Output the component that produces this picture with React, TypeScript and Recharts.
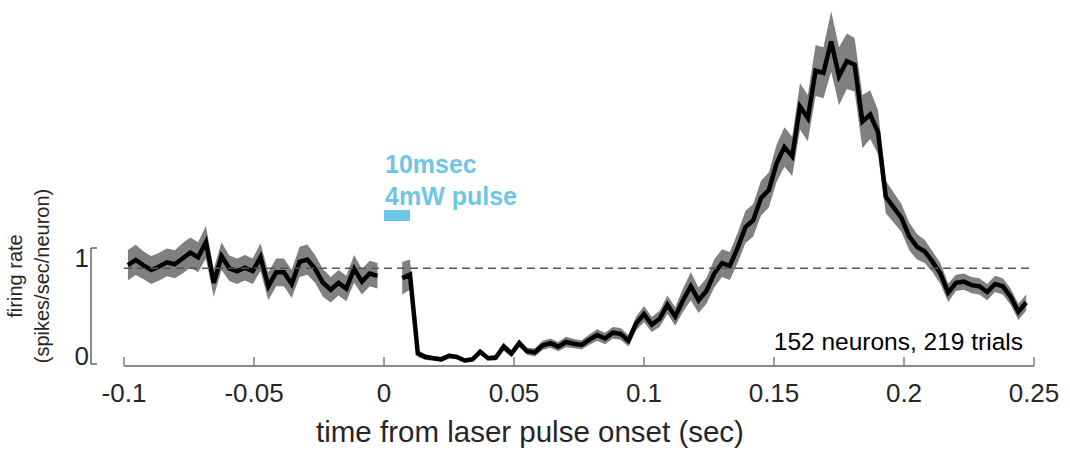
import { ComposedChart, Area, Line, XAxis, YAxis, ReferenceLine, ReferenceArea } from "recharts";

// PSTH around a 10 ms laser pulse, 3 ms bins
const binWidth = 0.003;
const preStart = -0.0985;
const postStart = 0.007;
const gapTime = 0.002;

const preRate = [
  0.853, 0.897, 0.85, 0.81, 0.84, 0.876, 0.86, 0.91, 0.96, 0.92, 1.05, 0.7, 0.93, 0.825, 0.8, 0.83, 0.8,
  0.92, 0.67, 0.79, 0.79, 0.69, 0.88, 0.9, 0.82, 0.7, 0.64, 0.7, 0.65, 0.82, 0.71, 0.78, 0.76
];
const preSem = [
  0.13, 0.13, 0.12, 0.12, 0.12, 0.12, 0.12, 0.13, 0.13, 0.13, 0.14, 0.12, 0.12, 0.11, 0.11, 0.11, 0.11,
  0.12, 0.12, 0.12, 0.12, 0.12, 0.13, 0.13, 0.12, 0.12, 0.11, 0.11, 0.11, 0.12, 0.11, 0.11, 0.11
];

const postRate = [
  0.74, 0.77, 0.09, 0.06, 0.05, 0.04, 0.07, 0.06, 0.03, 0.04, 0.105, 0.05, 0.055, 0.15, 0.09, 0.18, 0.11,
  0.1, 0.16, 0.18, 0.15, 0.19, 0.175, 0.165, 0.21, 0.25, 0.22, 0.27, 0.26, 0.2, 0.35, 0.43, 0.34, 0.39,
  0.51, 0.41, 0.55, 0.67, 0.55, 0.63, 0.78, 0.87, 0.845, 1.0, 1.18, 1.24, 1.43, 1.5, 1.73, 1.87, 1.79,
  2.22, 2.12, 2.53, 2.51, 2.78, 2.48, 2.61, 2.58, 2.09, 2.15, 2.0, 1.44, 1.35, 1.26, 1.1, 1.01, 0.97,
  0.88, 0.78, 0.615, 0.7, 0.71, 0.68, 0.67, 0.62, 0.69, 0.67, 0.58, 0.45, 0.53
];
const postSem = [
  0.14, 0.13, 0.03, 0.025, 0.02, 0.02, 0.02, 0.02, 0.02, 0.02, 0.025, 0.02, 0.025, 0.035, 0.03, 0.035, 0.03,
  0.035, 0.04, 0.04, 0.04, 0.045, 0.04, 0.04, 0.045, 0.05, 0.05, 0.05, 0.05, 0.05, 0.06, 0.07, 0.065, 0.07,
  0.08, 0.08, 0.1, 0.12, 0.11, 0.11, 0.12, 0.12, 0.12, 0.13, 0.14, 0.14, 0.15, 0.15, 0.16, 0.17, 0.17,
  0.2, 0.2, 0.22, 0.22, 0.26, 0.25, 0.24, 0.23, 0.23, 0.21, 0.19, 0.14, 0.13, 0.12, 0.12, 0.11, 0.1,
  0.09, 0.09, 0.08, 0.07, 0.07, 0.07, 0.07, 0.07, 0.07, 0.07, 0.07, 0.07, 0.07
];

const xTicks = [-0.1, -0.05, 0, 0.05, 0.1, 0.15, 0.2, 0.25];
const yTicks = [0, 1];
const baselineRate = 0.825;
const pulseStart = 0;
const pulseEnd = 0.01;

const xMin = -0.1127;
const xMax = 0.25;
const yMin = -0.0172;
const yMax = 3.0517;

const font = "'Liberation Sans', Arial, Helvetica, sans-serif";
const blue = "#6ec6e6";

const toRows = (start: number, rate: number[], sem: number[]) =>
  rate.map((r, i) => ({ t: start + i * binWidth, rate: r, band: [r - sem[i], r + sem[i]] }));

const data = [
  ...toRows(preStart, preRate, preSem),
  { t: gapTime, rate: null, band: null },
  ...toRows(postStart, postRate, postSem)
];

const XTick = ({ x, y, payload }: any) => (
  <g>
    <line x1={x} y1={y} x2={x} y2={y - 9} stroke="#808080" strokeWidth={1.5} />
    <text x={x} y={y + 36} textAnchor="middle" fontSize={26} fill="#262626" fontFamily={font}>
      {String(payload.value)}
    </text>
  </g>
);

const YTick = ({ x, y, payload }: any) => (
  <g>
    <line x1={x} y1={y} x2={x + 6} y2={y} stroke="#404040" strokeWidth={1.2} />
    <text
      x={x - 2}
      y={payload.value === 0 ? y + 1 : y + 19}
      textAnchor="end"
      fontSize={26}
      fill="#262626"
      fontFamily={font}
    >
      {String(payload.value)}
    </text>
  </g>
);

export default function App() {
  return (
    <div style={{ position: "absolute", left: 0, top: 0, width: 1070, height: 450, background: "#fff" }}>
      <ComposedChart width={1070} height={450} data={data} margin={{ top: 10, right: 36, bottom: 0, left: 0 }}>
        <XAxis
          dataKey="t"
          type="number"
          domain={[xMin, xMax]}
          ticks={xTicks}
          allowDataOverflow
          axisLine={false}
          tickLine={false}
          tickSize={0}
          tickMargin={0}
          height={84}
          tick={(p: any) => <XTick {...p} />}
        />
        <YAxis
          type="number"
          domain={[yMin, yMax]}
          ticks={yTicks}
          allowDataOverflow
          axisLine={false}
          tickLine={false}
          tickSize={0}
          tickMargin={0}
          width={91}
          tick={(p: any) => <YTick {...p} />}
        />
        <Area
          dataKey="band"
          type="linear"
          stroke="none"
          fill="#808080"
          fillOpacity={1}
          isAnimationActive={false}
          connectNulls={false}
        />
        <Line
          dataKey="rate"
          type="linear"
          stroke="#000"
          strokeWidth={4.5}
          dot={false}
          activeDot={false}
          isAnimationActive={false}
          connectNulls={false}
        />
        <ReferenceLine
          segment={[{ x: -0.1, y: baselineRate }, { x: xMax, y: baselineRate }]}
          stroke="#555"
          strokeWidth={1.5}
          strokeDasharray="8 5"
          ifOverflow="visible"
        />
        <ReferenceLine
          segment={[{ x: -0.1, y: yMin }, { x: xMax, y: yMin }]}
          stroke="#8a8a8a"
          strokeWidth={2}
          ifOverflow="visible"
        />
        <ReferenceLine
          segment={[{ x: xMin, y: 0 }, { x: xMin, y: 1 }]}
          stroke="#404040"
          strokeWidth={1.2}
          ifOverflow="visible"
        />
        <ReferenceArea x1={pulseStart} x2={pulseEnd} y1={1.233} y2={1.328} fill={blue} fillOpacity={1} stroke="none" ifOverflow="visible" />
      </ComposedChart>
      <svg width={1070} height={450} style={{ position: "absolute", left: 0, top: 0, pointerEvents: "none" }}>
        <g fontFamily={font}>
          <text x={385} y={173} fontSize={25} fontWeight="bold" fill={blue}>10msec</text>
          <text x={385} y={205} fontSize={25} fontWeight="bold" fill={blue}>4mW pulse</text>
          <text x={1023} y={350} fontSize={24.5} textAnchor="end" fill="#000">152 neurons, 219 trials</text>
          <text x={530} y={442} fontSize={29.5} textAnchor="middle" fill="#262626">time from laser pulse onset (sec)</text>
          <g transform="translate(22,276) rotate(-90)">
            <text x={0} y={0} fontSize={20} textAnchor="middle" fill="#262626">firing rate</text>
            <text x={0} y={27} fontSize={20} textAnchor="middle" fill="#262626">(spikes/sec/neuron)</text>
          </g>
        </g>
      </svg>
    </div>
  );
}
